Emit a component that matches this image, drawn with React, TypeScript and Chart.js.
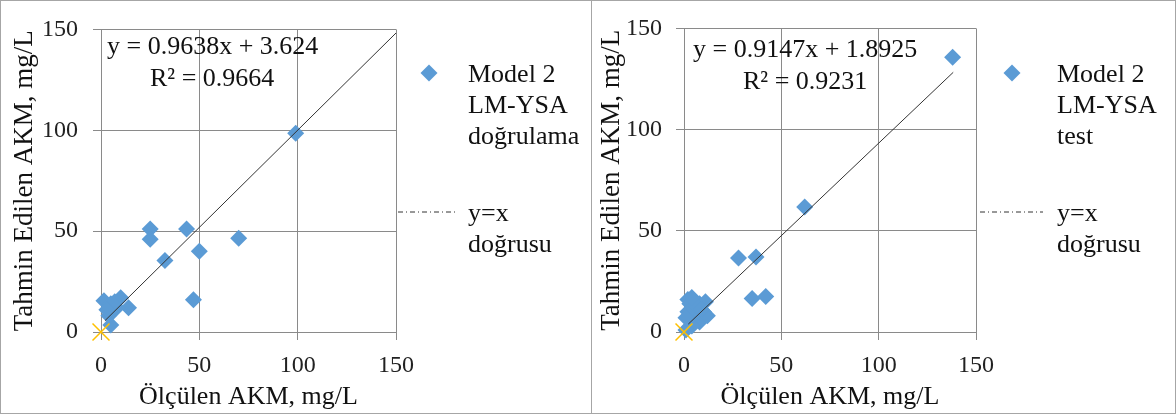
import React, { useEffect, useRef } from "react";
import { Chart, registerables } from "chart.js";

Chart.register(...registerables);

// ---- data ----
const axisTicks = [0, 50, 100, 150];
const xTitle = "Ölçülen AKM, mg/L";
const yTitle = "Tahmin Edilen AKM, mg/L";

const valX = [99, 25, 25, 43.5, 70, 50, 32.5, 47, 1.5, 10, 14, 5, 7, 4, 5, 8, 3];
const valY = [98.5, 51, 46, 51, 46.5, 40, 35.5, 16, 15.5, 17, 12, 14, 15, 8, 3.5, 12, 11];
const valTrendX = [2, 150];
const valTrendY = [5.6, 148.2];
const valEq = "y = 0.9638x + 3.624";
const valR2 = "R² = 0.9664";
const valLegend = ["Model 2", "LM-YSA", "doğrulama"];

const testX = [138, 62, 28, 37, 35, 42, 2, 3, 5, 8, 11, 10, 6, 3, 8, 4, 1, 12, 2, 1, 6, 9, 4];
const testY = [135.7, 61.7, 36.5, 37, 16.5, 17.5, 16, 14, 12, 14, 15, 10, 8, 6, 5, 3, 1, 8, 10, 7, 13, 11, 17];
const testTrendX = [2.2, 138.3];
const testTrendY = [3.9, 128.3];
const testEq = "y = 0.9147x + 1.8925";
const testR2 = "R² = 0.9231";
const testLegend = ["Model 2", "LM-YSA", "test"];

const lineLegend = ["y=x", "doğrusu"];
const originX = [0];
const originY = [0];

const FONT = "'Liberation Serif', 'Times New Roman', serif";
const GRID = "#8a8a8a";
const BLUE = "#5B9BD5";

type PanelProps = {
  left: number;
  width: number;
  xs: number[];
  ys: number[];
  tx: number[];
  ty: number[];
  eq: string;
  r2: string;
  legend: string[];
  geo: {
    axisW: number;
    padRight: number;
    yTickPad: number;
    yTitlePad: number;
    eqX: number;
    eqY: number;
    r2X: number;
    legX: number;
    legTextX: number;
    dashX0: number;
    dashX1: number;
  };
};

function Panel(p: PanelProps) {
  const ref = useRef<HTMLCanvasElement>(null);
  useEffect(() => {
    const ctx = ref.current!;
    const chart = new Chart(ctx, {
      type: "scatter",
      data: {
        datasets: [
          {
            label: "pts",
            data: p.xs.map((x, i) => ({ x, y: p.ys[i] })),
            pointStyle: "rectRot",
            pointRadius: 8.5,
            pointBackgroundColor: BLUE,
            pointBorderColor: BLUE,
            pointBorderWidth: 0,
            showLine: false,
            clip: false,
            order: 2,
          },
          {
            label: "trend",
            type: "line",
            data: p.tx.map((x, i) => ({ x, y: p.ty[i] })),
            borderColor: "#333333",
            borderWidth: 1,
            pointRadius: 0,
            showLine: true,
            fill: false,
            clip: false,
            order: 1,
          },
          {
            label: "yx",
            data: originX.map((x, i) => ({ x, y: originY[i] })),
            pointStyle: "crossRot",
            pointRadius: 12,
            pointBorderColor: "#FFC000",
            pointBackgroundColor: "#FFC000",
            pointBorderWidth: 1.5,
            showLine: false,
            clip: false,
            order: 0,
          },
        ],
      },
      options: {
        animation: false,
        responsive: false,
        maintainAspectRatio: false,
        layout: { padding: { top: 21, right: p.geo.padRight, left: 0, bottom: 0 } },
        plugins: { legend: { display: false }, tooltip: { enabled: false } },
        scales: {
          x: {
            type: "linear",
            min: 0,
            max: 150,
            afterBuildTicks: (s: any) => {
              s.ticks = axisTicks.map((v) => ({ value: v }));
            },
            afterFit: (s: any) => {
              s.height = 84;
            },
            grid: { color: GRID, lineWidth: 1, tickLength: 8, drawTicks: true },
            border: { color: GRID, width: 1 },
            ticks: { font: { family: FONT, size: 24 }, color: "#222", padding: 11, maxRotation: 0 },
            title: {
              display: true,
              text: xTitle,
              font: { family: FONT, size: 26 },
              color: "#111",
              padding: { top: 0, bottom: 3 },
            },
          },
          y: {
            type: "linear",
            min: 0,
            max: 150,
            afterBuildTicks: (s: any) => {
              s.ticks = axisTicks.map((v) => ({ value: v }));
            },
            afterFit: (s: any) => {
              s.width = p.geo.axisW;
            },
            grid: { color: GRID, lineWidth: 1, tickLength: 8, drawTicks: true },
            border: { color: GRID, width: 1 },
            ticks: { font: { family: FONT, size: 24 }, color: "#222", padding: p.geo.yTickPad },
            title: {
              display: true,
              text: yTitle,
              font: { family: FONT, size: 27 },
              color: "#111",
              padding: { top: p.geo.yTitlePad, bottom: 0 },
            },
          },
        },
      },
    } as any);
    return () => chart.destroy();
  }, []);

  const txt: React.CSSProperties = {
    position: "absolute",
    fontFamily: FONT,
    fontSize: 26,
    lineHeight: "31px",
    color: "#111",
    whiteSpace: "nowrap",
  };
  const g = p.geo;
  return (
    <div style={{ position: "absolute", left: p.left, top: 0, width: p.width, height: 416 }}>
      <canvas ref={ref} width={p.width} height={416} style={{ display: "block" }} />
      <div style={{ ...txt, left: g.eqX, top: g.eqY - 15.5 }}>{p.eq}</div>
      <div style={{ ...txt, left: g.r2X, top: g.eqY + 16.5 }}>{p.r2}</div>
      <div
        style={{
          position: "absolute",
          left: g.legX - 6,
          top: 73 - 6,
          width: 12,
          height: 12,
          background: BLUE,
          transform: "rotate(45deg)",
        }}
      />
      <div style={{ ...txt, left: g.legTextX, top: 57.5 }}>
        {p.legend.map((s, i) => (
          <div key={i}>{s}</div>
        ))}
      </div>
      <svg
        style={{ position: "absolute", left: g.dashX0, top: 208 }}
        width={g.dashX1 - g.dashX0}
        height={8}
      >
        <line x1={0} y1={4} x2={g.dashX1 - g.dashX0} y2={4} stroke="#333" strokeWidth={1} strokeDasharray="5 3 1 3" />
      </svg>
      <div style={{ ...txt, left: g.legTextX, top: 196.5 }}>
        {lineLegend.map((s, i) => (
          <div key={i}>{s}</div>
        ))}
      </div>
    </div>
  );
}

export default function App() {
  return (
    <div
      style={{
        position: "fixed",
        left: 0,
        top: 0,
        width: 1176,
        height: 416,
        background: "#fff",
        overflow: "hidden",
      }}
    >
      <Panel
        left={0}
        width={590}
        xs={valX}
        ys={valY}
        tx={valTrendX}
        ty={valTrendY}
        eq={valEq}
        r2={valR2}
        legend={valLegend}
        geo={{
          axisW: 101,
          padRight: 194,
          yTickPad: 15,
          yTitlePad: 9,
          eqX: 107,
          eqY: 45,
          r2X: 150,
          legX: 429,
          legTextX: 468,
          dashX0: 398,
          dashX1: 456,
        }}
      />
      <Panel
        left={591}
        width={585}
        xs={testX}
        ys={testY}
        tx={testTrendX}
        ty={testTrendY}
        eq={testEq}
        r2={testR2}
        legend={testLegend}
        geo={{
          axisW: 93,
          padRight: 200,
          yTickPad: 14,
          yTitlePad: 5,
          eqX: 102,
          eqY: 48,
          r2X: 152,
          legX: 421,
          legTextX: 466,
          dashX0: 389,
          dashX1: 452,
        }}
      />
      <div
        style={{
          position: "absolute",
          left: 0,
          top: 0,
          width: 1174,
          height: 412,
          border: "1px solid #a6a6a6",
          pointerEvents: "none",
        }}
      />
      <div
        style={{
          position: "absolute",
          left: 591,
          top: 0,
          width: 1,
          height: 414,
          background: "#a6a6a6",
        }}
      />
    </div>
  );
}
